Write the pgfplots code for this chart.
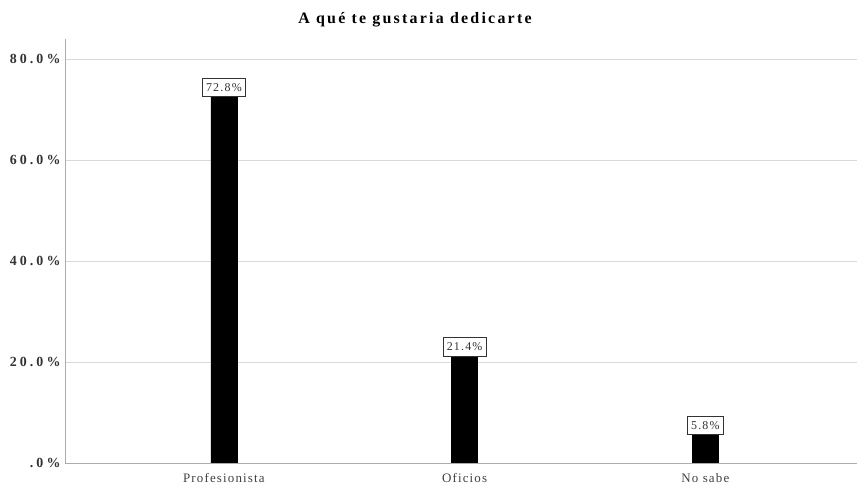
\documentclass[border=0pt]{standalone}
\usepackage{pgfplots}
\pgfplotsset{compat=1.18}
\usepackage{fontspec}
\setmainfont{Liberation Serif}
\begin{document}
\begin{tikzpicture}
\useasboundingbox (-65bp,-29bp) rectangle (792bp,463bp);
\begin{axis}[
  at={(0,0)}, anchor=south west,
  scale only axis,
  width=792bp, height=424bp,
  xmin=-0.66, xmax=2.63,
  ymin=0, ymax=84,
  axis x line*=bottom, axis y line*=left,
  axis line style={draw=gray!65, line width=0.9pt},
  xtick={0,1,2},
  xticklabels={Profesionista,Oficios,No sabe},
  x tick label style={font=\fontsize{13}{14}\selectfont\addfontfeatures{LetterSpace=9}, text=black!75, yshift=-7bp},
  ytick={0,20,40,60,80},
  yticklabels={.0\%,20.0\%,40.0\%,60.0\%,80.0\%},
  y tick label style={font=\bfseries\fontsize{14}{15}\selectfont\addfontfeatures{LetterSpace=22}, text=black!80, xshift=-1bp},
  major tick length=0pt,
  ymajorgrids,
  grid style={draw=gray!30, line width=0.9pt},
  title={A qué te gustaria dedicarte},
  title style={font=\bfseries\fontsize{16}{17}\selectfont\addfontfeatures{LetterSpace=14}, yshift=2bp, xshift=-46bp},
  ybar, bar width=26bp,
  nodes near coords,
  point meta=explicit symbolic,
  every node near coord/.style={draw=black!80, fill=white, inner xsep=3.5bp, inner ysep=5bp, anchor=south, yshift=-1pt, font=\fontsize{12}{13}\selectfont\addfontfeatures{LetterSpace=10}, text=black!80},
]
\addplot[fill=black, draw=black] coordinates {(0,72.8)[72.8\%] (1,21.4)[21.4\%] (2,5.8)[5.8\%]};
\end{axis}
\end{tikzpicture}
\end{document}
